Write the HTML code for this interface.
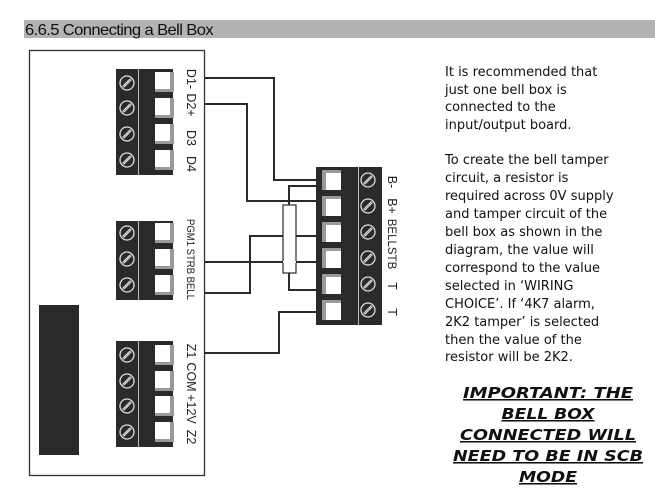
<!DOCTYPE html>
<html><head><meta charset="utf-8"><style>
html,body{margin:0;padding:0;background:#fff;}
svg{display:block}
</style></head><body>
<svg width="655" height="496" viewBox="0 0 655 496" xmlns="http://www.w3.org/2000/svg">
<defs>
<g id="screw"><circle r="7" fill="#2a2a2a" stroke="#ddd" stroke-width="1.3"/><line x1="-4.5" y1="3.5" x2="3.5" y2="-4.5" stroke="#ddd" stroke-width="1.2"/><line x1="-3.5" y1="4.5" x2="4.5" y2="-3.5" stroke="#ddd" stroke-width="1.2"/></g>
<g id="sqL"><rect x="0" y="-10" width="19" height="20" fill="#999"/><rect x="0" y="-10" width="15" height="17" fill="#fff"/></g>
<g id="sqR"><rect x="0" y="-10" width="19" height="20" fill="#999"/><rect x="4" y="-7" width="15" height="17" fill="#fff"/></g>
</defs>
<rect x="24" y="20" width="631" height="18" fill="#b3b3b3"/>
<text x="25" y="35" font-family="Liberation Sans, sans-serif" font-size="16" letter-spacing="-0.6" fill="#111" textLength="188" lengthAdjust="spacingAndGlyphs">6.6.5 Connecting a Bell Box</text>
<rect x="29.5" y="50.5" width="175" height="425" fill="#fff" stroke="#333" stroke-width="1.3"/>
<rect x="39" y="305" width="40" height="150" fill="#2a2a2a"/>
<!-- block 1 -->
<rect x="116" y="69" width="57" height="106" fill="#2a2a2a"/>
<line x1="138.5" y1="69" x2="138.5" y2="175" stroke="#bbb"/>
<use href="#screw" x="127" y="83"/><use href="#screw" x="127" y="108"/><use href="#screw" x="127" y="134"/><use href="#screw" x="127" y="160"/>
<use href="#sqL" x="155" y="82"/><use href="#sqL" x="155" y="108"/><use href="#sqL" x="155" y="134"/><use href="#sqL" x="155" y="160"/>
<!-- block 2 -->
<rect x="116" y="221" width="57" height="79" fill="#2a2a2a"/>
<line x1="138.5" y1="221" x2="138.5" y2="300" stroke="#bbb"/>
<use href="#screw" x="127" y="233"/><use href="#screw" x="127" y="259"/><use href="#screw" x="127" y="285"/>
<use href="#sqL" x="155" y="233"/><use href="#sqL" x="155" y="259"/><use href="#sqL" x="155" y="285"/>
<!-- block 3 -->
<rect x="116" y="341" width="57" height="106" fill="#2a2a2a"/>
<line x1="138.5" y1="341" x2="138.5" y2="447" stroke="#bbb"/>
<use href="#screw" x="127" y="355"/><use href="#screw" x="127" y="381"/><use href="#screw" x="127" y="406"/><use href="#screw" x="127" y="432"/>
<use href="#sqL" x="155" y="355"/><use href="#sqL" x="155" y="381"/><use href="#sqL" x="155" y="406"/><use href="#sqL" x="155" y="432"/>
<!-- labels -->
<g font-family="Liberation Sans, sans-serif" font-size="12.5" fill="#222" text-anchor="middle">
<text transform="translate(187,79) rotate(90)">D1-</text>
<text transform="translate(187,105) rotate(90)">D2+</text>
<text transform="translate(187,138) rotate(90)">D3</text>
<text transform="translate(187,164) rotate(90)">D4</text>
<text transform="translate(187,351) rotate(90)">Z1</text>
<text transform="translate(187,377) rotate(90)">COM</text>
<text transform="translate(187,409) rotate(90)">+12V</text>
<text transform="translate(187,437) rotate(90)">Z2</text>
<text transform="translate(388,182) rotate(90)">B-</text>
<text transform="translate(388,206) rotate(90)">B+</text>
<text transform="translate(388,244) rotate(90)" font-size="11.5">BELLSTB</text>
<text transform="translate(388,286) rotate(90)">T</text>
<text transform="translate(388,312) rotate(90)">T</text>
</g>
<text transform="translate(187,219) rotate(90)" font-family="Liberation Sans, sans-serif" font-size="11" fill="#222" textLength="81" lengthAdjust="spacingAndGlyphs">PGM1 STRB BELL</text>
<!-- right block -->
<rect x="316" y="167" width="66" height="158" fill="#2a2a2a"/>
<line x1="358.5" y1="167" x2="358.5" y2="325" stroke="#bbb"/>
<use href="#sqR" x="322" y="180"/><use href="#sqR" x="322" y="206"/><use href="#sqR" x="322" y="232"/><use href="#sqR" x="322" y="258"/><use href="#sqR" x="322" y="284"/><use href="#sqR" x="322" y="310"/>
<use href="#screw" x="368" y="180"/><use href="#screw" x="368" y="206"/><use href="#screw" x="368" y="232"/><use href="#screw" x="368" y="258"/><use href="#screw" x="368" y="284"/><use href="#screw" x="368" y="310"/>
<!-- wires -->
<g fill="none" stroke="#2a2a2a" stroke-width="2">
<polyline points="204,78 274,78 274,180 316,180"/>
<polyline points="204,104 247,104 247,201 316,201"/>
<polyline points="289,205 289,186 316,186"/>
<polyline points="289,273 289,290 316,290"/>
<polyline points="204,262 316,262"/>
<polyline points="204,293 250,293 250,236 316,236"/>
<polyline points="204,353 279,353 279,312 316,312"/>
</g>
<rect x="283" y="205" width="13" height="68" fill="#fff" stroke="#2a2a2a" stroke-width="1.2"/>
<line x1="283" y1="262" x2="296" y2="262" stroke="#fff" stroke-width="2"/>
<!-- text -->
<g font-family="DejaVu Sans, sans-serif" font-size="13" fill="#111">
<text x="445" y="76">It is recommended that</text>
<text x="445" y="94">just one bell box is</text>
<text x="445" y="111">connected to the</text>
<text x="445" y="129">input/output board.</text>
<text x="445" y="164">To create the bell tamper</text>
<text x="445" y="182">circuit, a resistor is</text>
<text x="445" y="200">required across 0V supply</text>
<text x="445" y="218">and tamper circuit of the</text>
<text x="445" y="236">bell box as shown in the</text>
<text x="445" y="254">diagram, the value will</text>
<text x="445" y="272">correspond to the value</text>
<text x="445" y="290">selected in ‘WIRING</text>
<text x="445" y="308">CHOICE’. If ‘4K7 alarm,</text>
<text x="445" y="326">2K2 tamper’ is selected</text>
<text x="445" y="344">then the value of the</text>
<text x="445" y="361">resistor will be 2K2.</text>
</g>
<g font-family="DejaVu Sans, sans-serif" font-size="15.5" font-weight="bold" font-style="italic" text-anchor="middle" fill="#111" text-decoration="underline">
<text x="548" y="398" textLength="170" lengthAdjust="spacingAndGlyphs">IMPORTANT: THE</text>
<text x="548" y="419" textLength="93" lengthAdjust="spacingAndGlyphs">BELL BOX</text>
<text x="548" y="440" textLength="176" lengthAdjust="spacingAndGlyphs">CONNECTED WILL</text>
<text x="548" y="461" textLength="190" lengthAdjust="spacingAndGlyphs">NEED TO BE IN SCB</text>
<text x="548" y="482" textLength="58" lengthAdjust="spacingAndGlyphs">MODE</text>
</g>
</svg>
</body></html>
